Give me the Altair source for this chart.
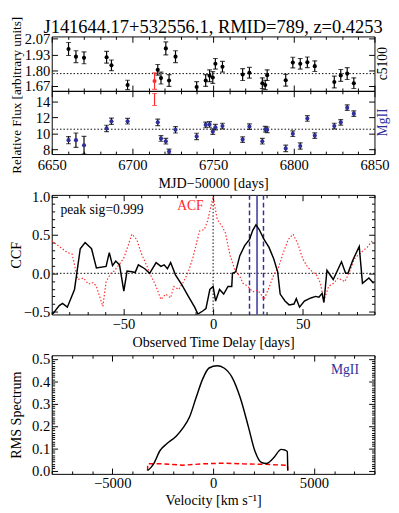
import altair as alt
import pandas as pd
import numpy as np

FONT = "Liberation Serif"
BLUE = "#30309c"
RED = "#ff2a2a"

# ---------------- data ----------------
days = [6660.4, 6665.0, 6670.0, 6684.0, 6687.0, 6697.0, 6713.7, 6715.7, 6717.7, 6720.7,
        6722.7, 6726.7, 6739.8, 6745.4, 6747.8, 6749.8, 6751.4, 6755.8, 6768.3, 6772.5,
        6780.5, 6782.3, 6783.5, 6795.0, 6799.4, 6804.0, 6808.4, 6813.0, 6825.1, 6829.1,
        6833.1, 6837.2]
c5100 = [1.979, 1.914, 1.904, 1.909, 1.841, 1.675, 1.708, 1.803, 1.733, 1.984,
         1.713, 1.914, 1.658, 1.713, 1.753, 1.738, 1.854, 1.829, 1.763, 1.778,
         1.690, 1.675, 1.758, 1.715, 1.864, 1.854, 1.866, 1.834, 1.700, 1.756,
         1.771, 1.690]
c5100_err = [0.055, 0.05, 0.05, 0.05, 0.045, 0.04, 0.07, 0.045, 0.05, 0.055,
             0.05, 0.05, 0.045, 0.05, 0.05, 0.05, 0.045, 0.045, 0.05, 0.045,
             0.045, 0.04, 0.045, 0.05, 0.045, 0.045, 0.045, 0.045, 0.05, 0.05,
             0.05, 0.045]
mgii = [9.13, 9.13, 8.5, 10.6, 11.5, 11.5, 14.22, 11.36, 9.34, 9.0,
        7.7, 10.43, 9.6, 11.04, 11.1, 10.2, 10.75, 10.9, 9.2, 10.83,
        9.0, 10.5, 10.43, 8.1, 9.94, 8.4, 11.85, 9.7, 10.9, 11.36,
        13.2, 12.45]
mgii_err = [0.45, 0.9, 1.1, 0.4, 0.4, 0.35, 0.75, 0.4, 0.35, 0.35,
            0.3, 0.4, 0.4, 0.35, 0.35, 0.35, 0.35, 0.35, 0.35, 0.35,
            0.35, 0.35, 0.35, 0.4, 0.35, 0.4, 0.35, 0.35, 0.35, 0.35,
            0.35, 0.35]
red_index = 6
c5100_mean = 1.771
mgii_mean = 10.5

ccf_lag = [-89.5, -85.8, -84.0, -81.3, -77.3, -74.1, -71.4, -67.8, -65.1, -59.7,
           -57.9, -56.1, -54.3, -52.2, -49.8, -48.0, -45.3, -43.5, -41.7, -38.1,
           -35.4, -31.8, -29.1, -27.3, -25.5, -23.7, -21.0, -17.4, -13.8, -10.3,
           -8.5, -5.8, -4.0, -1.8, 0.0, 1.4, 3.6, 5.9, 8.3, 10.4,
           10.8, 12.6, 14.9, 17.6, 20.3, 22.1, 23.9, 25.7, 28.4, 31.1,
           33.8, 36.0, 37.4, 40.1, 42.4, 45.1, 46.4, 48.2, 50.9, 54.5,
           57.2, 59.0, 60.8, 61.8, 63.5, 67.0, 71.6, 73.9, 75.2, 77.9,
           81.5, 83.3, 86.9, 89.5]
ccf_val = [-0.53, -0.42, -0.39, -0.44, -0.21, 0.32, 0.40, 0.32, 0.07, 0.09,
           0.27, 0.10, 0.16, 0.11, -0.23, 0.03, 0.02, 0.01, 0.11, 0.06,
           0.00, 0.14, 0.09, 0.11, 0.06, 0.14, -0.02, -0.15, -0.30, -0.44,
           -0.53, -0.49, -0.46, -0.21, -0.17, -0.36, -0.21, -0.27, -0.17, -0.17,
           0.00, 0.02, 0.23, 0.36, 0.44, 0.56, 0.63, 0.57, 0.44, 0.34,
           0.19, 0.02, -0.27, -0.36, -0.41, -0.40, -0.33, -0.44, -0.36, -0.32,
           -0.30, -0.31, -0.26, -0.38, 0.04, -0.08, 0.15, 0.00, 0.00, 0.17,
           0.35, -0.13, -0.06, -0.13]
acf_lag = [-90, -85.8, -81.3, -78.6, -76.3, -75.5, -72.3, -69.6, -66.9, -65.1,
           -61.5, -59.7, -57, -55.2, -52.5, -49.8, -47.1, -45.3, -42.6, -39.9,
           -37.2, -34.5, -31.8, -29.1, -26.4, -23.7, -21.9, -19.2, -16.5, -13.8,
           -11.2, -7.6, -4.9, -3.1, 0, 2.3, 5, 6.8, 9.5, 12.2,
           14.9, 16.7, 19.4, 22.1, 24.8, 26.6, 28.4, 31.1, 33.8, 36.5,
           39.2, 41.9, 44.6, 47.3, 50, 52.7, 55.4, 57.6, 59.9, 61.7,
           64.4, 67.1, 69.8, 73.4, 76.1, 78.8, 82.4, 86, 88.7]
acf_val = [0.42, 0.35, 0.27, 0.25, 0.0, -0.08, -0.06, -0.14, -0.12, -0.17,
           -0.43, -0.11, 0.0, 0.03, 0.11, 0.20, 0.38, 0.51, 0.44, 0.25,
           0.11, -0.04, -0.17, -0.34, -0.27, -0.32, -0.17, -0.21, -0.11, 0.02,
           0.21, 0.55, 0.57, 0.68, 1.0, 0.70, 0.61, 0.53, 0.23, 0.04,
           -0.04, -0.13, -0.17, -0.24, -0.22, -0.27, -0.34, -0.19, -0.02, 0.08,
           0.27, 0.44, 0.51, 0.38, 0.19, 0.08, 0.02, -0.02, -0.13, -0.36,
           -0.17, -0.13, -0.06, -0.11, 0.02, 0.19, 0.27, 0.34, 0.42]
lag_peak = [24.5]
lag_bounds = [20.3, 28.1]
peak_text = "peak sig=0.999"

rms_vel = [-3250, -3100, -2950, -2630, -2300, -1820, -1500, -1170, -850, -520,
           -200, 200, 540, 940, 1350, 1750, 2080, 2400, 2650, 2980,
           3380, 3550, 3680, 3700]
rms_val = [0.0, 0.012, 0.03, 0.09, 0.12, 0.155, 0.19, 0.24, 0.325, 0.41,
           0.46, 0.47, 0.46, 0.418, 0.325, 0.196, 0.085, 0.036, 0.032, 0.055,
           0.095, 0.092, 0.085, 0.0]
err_vel = [-3250, -3240, -2500, -1500, -500, 500, 1500, 2500, 3600, 3690, 3700]
err_val = [0.0, 0.03, 0.03, 0.024, 0.03, 0.033, 0.03, 0.028, 0.024, 0.024, 0.0]

title_text = "J141644.17+532556.1, RMID=789, z=0.4253"

# ---------------- helpers ----------------
W = 332
H1, H2, H3, H4 = 56, 65, 123, 122
GAP = 42
LBL = 15
TTL = 14.5


def mult(step):
    return f"abs(datum.value/{step} - round(datum.value/{step})) < 1e-6"


def axis_def(values, major_test, orient, fmt=None, title=None, major=-6, minor=-3, **extra):
    a = dict(values=values, orient=orient, domain=False, grid=False,
             tickSize={"condition": {"test": major_test, "value": major}, "value": minor},
             tickColor="black", tickWidth=1, title=title)
    if fmt:
        a.update(labels=True,
                 labelExpr=f"({major_test}) ? format(datum.value, '{fmt}') : ''",
                 labelPadding=8, labelFlush=False, labelOverlap=False)
    else:
        a.update(labels=False)
    a.update(extra)
    return alt.Axis(**a)


def axes_layer(df, xf, yf, xs, ys, xaxis, yaxis):
    return alt.Chart(df).mark_point(opacity=0).encode(
        x=alt.X(xf, type="quantitative", scale=xs, axis=xaxis),
        y=alt.Y(yf, type="quantitative", scale=ys, axis=yaxis))


def errbar_layers(df, xs, ys, color, dot_color, dots=True):
    x = alt.X("day:Q", scale=xs, axis=None)
    out = [
        alt.Chart(df).mark_rule(color=color, strokeWidth=1.2, clip=True).encode(
            x=x, y=alt.Y("lo:Q", scale=ys, axis=None), y2="hi:Q"),
        alt.Chart(df).mark_tick(color=color, orient="horizontal", size=5, thickness=1.2, clip=True).encode(
            x=x, y=alt.Y("lo:Q", scale=ys, axis=None)),
        alt.Chart(df).mark_tick(color=color, orient="horizontal", size=5, thickness=1.2, clip=True).encode(
            x=x, y=alt.Y("hi:Q", scale=ys, axis=None)),
    ]
    if dots:
        out.append(alt.Chart(df).mark_circle(color=dot_color, size=18, opacity=1, clip=True).encode(
            x=x, y=alt.Y("val:Q", scale=ys, axis=None)))
    return out


def text_layer(text, x, y, color="black", size=14, **kw):
    return alt.Chart(pd.DataFrame({"t": [text]})).mark_text(
        font=FONT, fontSize=size, color=color, **kw).encode(
        text="t:N", x=alt.value(x), y=alt.value(y))


def side_label(text, h, color):
    return text_layer(text, W + 9, h / 2, color, 14, angle=270, align="center", baseline="middle")


def spacer(h):
    return alt.Chart(pd.DataFrame({"a": [0]})).mark_point(opacity=0).encode(
        x=alt.value(0), y=alt.value(0)).properties(
        width=W, height=h, view=alt.ViewBackground(strokeOpacity=0))


# ---------------- panel 1 : c5100 ----------------
xsT = alt.Scale(domain=[6650, 6850], nice=False, zero=False)
ys1 = alt.Scale(domain=[1.625, 2.085], nice=False, zero=False)
xvalsT = list(range(6650, 6851, 10))
y1vals = [1.67, 1.80, 1.93, 2.07]

df1 = pd.DataFrame({"day": days, "val": c5100, "err": c5100_err})
df1["lo"] = df1["val"] - df1["err"]
df1["hi"] = df1["val"] + df1["err"]
df1_blk = df1.drop(index=red_index)
df1_red = df1.loc[[red_index]]

p1 = alt.layer(
    axes_layer(df1, "day", "val", xsT, ys1,
               axis_def(xvalsT, mult(50), "bottom"),
               axis_def(y1vals, "true", "left", ".2f", title="Relative Flux [arbitrary units]",
                        titleX=-29, titleY=60, titleFontSize=13.5)),
    alt.Chart(pd.DataFrame({"m": [c5100_mean]})).mark_rule(color="black", strokeDash=[1.5, 2], strokeWidth=1).encode(
        y=alt.Y("m:Q", scale=ys1, axis=None)),
    *errbar_layers(df1_blk, xsT, ys1, "black", "black"),
    *errbar_layers(df1_red, xsT, ys1, RED, RED),
    side_label("c5100", H1, "black"),
    text_layer(title_text, W / 2, -4, "black", 19, align="center", baseline="alphabetic"),
    axes_layer(df1, "day", "val", xsT, ys1,
               axis_def(xvalsT, mult(50), "top"),
               axis_def(y1vals, "true", "right")),
).resolve_axis(x="independent", y="independent").properties(width=W, height=H1)

# ---------------- panel 2 : MgII ----------------
ys2 = alt.Scale(domain=[7.39, 15.3], nice=False, zero=False)
y2vals = [8, 10, 12, 14]
df2 = pd.DataFrame({"day": days, "val": mgii, "err": mgii_err})
df2["lo"] = df2["val"] - df2["err"]
df2["hi"] = df2["val"] + df2["err"]
df2_blk = df2.drop(index=red_index)
df2_red = df2.loc[[red_index]]

p2 = alt.layer(
    axes_layer(df2, "day", "val", xsT, ys2,
               axis_def(xvalsT, mult(50), "bottom", "d", title="MJD\u221250000 [days]",
                        labelPadding=10, titleY=30, titleBaseline="middle"),
               axis_def(y2vals, "true", "left", "d")),
    alt.Chart(pd.DataFrame({"m": [mgii_mean]})).mark_rule(color="black", strokeDash=[1.5, 2], strokeWidth=1).encode(
        y=alt.Y("m:Q", scale=ys2, axis=None)),
    *errbar_layers(df2_blk, xsT, ys2, "black", BLUE),
    *errbar_layers(df2_red, xsT, ys2, RED, RED, dots=False),
    side_label("MgII", H2, BLUE),
    axes_layer(df2, "day", "val", xsT, ys2,
               axis_def(xvalsT, mult(50), "top"),
               axis_def(y2vals, "true", "right")),
).resolve_axis(x="independent", y="independent").properties(width=W, height=H2)

# ---------------- panel 3 : CCF ----------------
xs3 = alt.Scale(domain=[-90, 90], nice=False, zero=False)
ys3 = alt.Scale(domain=[-0.535, 1.02], nice=False, zero=False)
x3vals = list(range(-90, 91, 10))
y3vals = [round(v, 2) for v in np.arange(-0.5, 1.001, 0.1)]
df_ccf = pd.DataFrame({"lag": ccf_lag, "val": ccf_val})
df_acf = pd.DataFrame({"lag": acf_lag, "val": acf_val})
x3 = alt.X("lag:Q", scale=xs3, axis=None)

p3 = alt.layer(
    axes_layer(df_ccf, "lag", "val", xs3, ys3,
               axis_def(x3vals, mult(50), "bottom", "d", title="Observed Time Delay [days]",
                        titleY=29, titleBaseline="middle"),
               axis_def(y3vals, mult(0.5), "left", ".1f", title="CCF", titleX=-29, titleY=H3 / 2)),
    alt.Chart(pd.DataFrame({"z": [0.0]})).mark_rule(color="black", strokeDash=[1.5, 2], strokeWidth=1).encode(
        y=alt.Y("z:Q", scale=ys3, axis=None)),
    alt.Chart(pd.DataFrame({"z": [0.0]})).mark_rule(color="black", strokeDash=[1.5, 2], strokeWidth=1).encode(
        x=alt.X("z:Q", scale=xs3, axis=None)),
    alt.Chart(pd.DataFrame({"lag": lag_bounds})).mark_rule(color=BLUE, strokeDash=[5, 3], strokeWidth=1.5).encode(x=x3),
    alt.Chart(pd.DataFrame({"lag": lag_peak})).mark_rule(color=BLUE, strokeWidth=1.5).encode(x=x3),
    alt.Chart(df_acf).mark_line(color=RED, strokeDash=[1.5, 2], strokeWidth=1.2, clip=True).encode(
        x=x3, y=alt.Y("val:Q", scale=ys3, axis=None)),
    alt.Chart(df_ccf).mark_line(color="black", strokeWidth=1.5, clip=True).encode(
        x=x3, y=alt.Y("val:Q", scale=ys3, axis=None)),
    text_layer(peak_text, 9, 16, "black", 14, align="left", baseline="middle"),
    text_layer("ACF", 129, 12, RED, 14, align="left", baseline="middle"),
    axes_layer(df_ccf, "lag", "val", xs3, ys3,
               axis_def(x3vals, mult(50), "top"),
               axis_def(y3vals, mult(0.5), "right")),
).resolve_axis(x="independent", y="independent").properties(width=W, height=H3)

# ---------------- panel 4 : RMS spectrum ----------------
xs4 = alt.Scale(domain=[-8000, 8000], nice=False, zero=False)
ys4 = alt.Scale(domain=[-0.015, 0.517], nice=False, zero=False)
x4vals = list(range(-8000, 8001, 1000))
y4vals = [round(v, 2) for v in np.arange(0.0, 0.5001, 0.01)]
df_rms = pd.DataFrame({"vel": rms_vel, "val": rms_val})
df_err = pd.DataFrame({"vel": err_vel, "val": err_val})
x4 = alt.X("vel:Q", scale=xs4, axis=None)

p4 = alt.layer(
    axes_layer(df_rms, "vel", "val", xs4, ys4,
               axis_def(x4vals, mult(5000), "bottom", "d", title="Velocity [km s\u207b\u00b9]",
                        titleY=27, titleBaseline="middle"),
               axis_def(y4vals, mult(0.1), "left", ".1f", title="RMS Spectrum", titleX=-29, titleY=H4 / 2)),
    alt.Chart(df_err).mark_line(color="#ff0000", strokeDash=[5, 3], strokeWidth=1.5, clip=True).encode(
        x=x4, y=alt.Y("val:Q", scale=ys4, axis=None)),
    alt.Chart(df_rms).mark_line(color="black", strokeWidth=1.5, interpolate="monotone", clip=True).encode(
        x=x4, y=alt.Y("val:Q", scale=ys4, axis=None)),
    text_layer("MgII", 316, 15, BLUE, 14, align="right", baseline="middle"),
    axes_layer(df_rms, "vel", "val", xs4, ys4,
               axis_def(x4vals, mult(5000), "top"),
               axis_def(y4vals, mult(0.1), "right")),
).resolve_axis(x="independent", y="independent").properties(width=W, height=H4)

chart = alt.vconcat(p1, p2, spacer(GAP), p3, spacer(GAP), p4, spacing=0, bounds="flush").properties(
    padding={"left": 0, "top": 0, "right": 0, "bottom": 0}
).configure_view(stroke="black", strokeWidth=1).configure_axis(
    labelFont=FONT, labelFontSize=LBL, labelColor="black",
    titleFont=FONT, titleFontSize=TTL, titleFontWeight="normal", titleColor="black")

chart.save("out.html", embed_options={"renderer": "svg", "actions": False})
